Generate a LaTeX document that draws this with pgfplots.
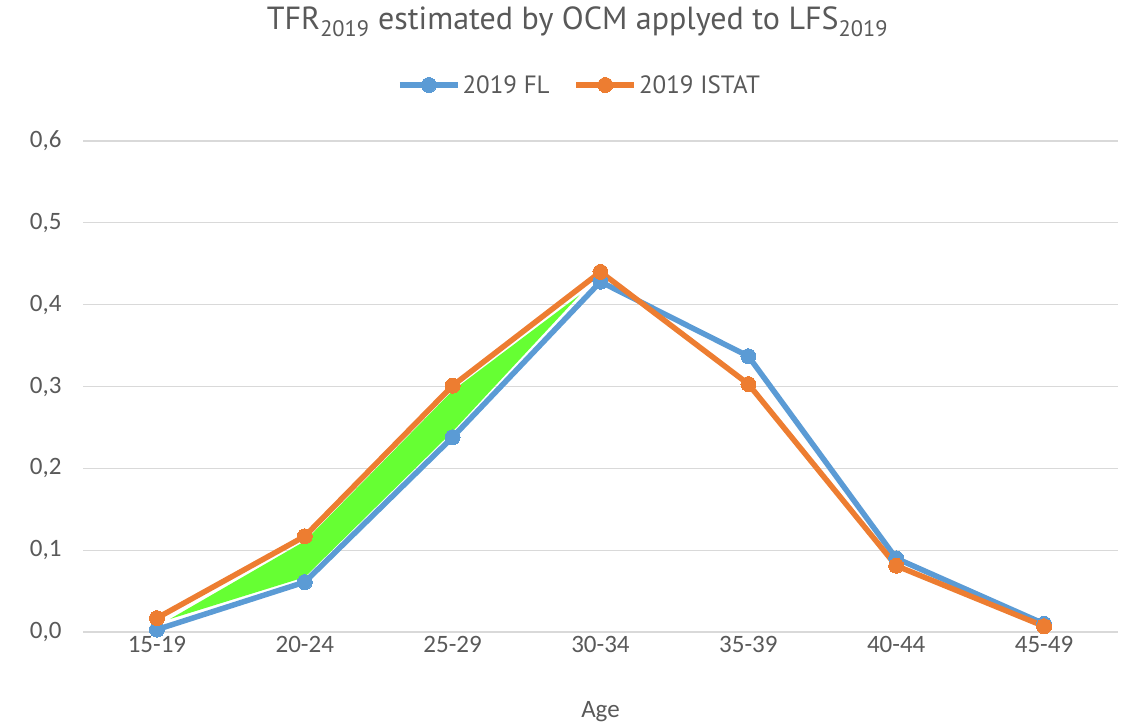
\documentclass[border=0pt]{standalone}
\usepackage{fontspec}
\setmainfont{Carlito}
\newfontfamily\titlefont{PT Sans}
\usepackage{pgfplots}
\pgfplotsset{compat=1.18}
\definecolor{fl}{HTML}{5B9BD5}
\definecolor{istat}{HTML}{ED7D31}
\definecolor{fillgreen}{HTML}{66FF33}
\definecolor{gridgray}{HTML}{D9D9D9}
\definecolor{txt}{HTML}{595959}
\begin{document}
\begin{tikzpicture}
\path[use as bounding box] (0,0) rectangle (1127bp,725bp);
\begin{axis}[
  at={(83bp,93bp)}, anchor=south west,
  scale only axis, width=1035bp, height=491bp,
  xmin=-0.5, xmax=6.5, ymin=0, ymax=0.6,
  xtick={0,1,2,3,4,5,6},
  xticklabels={15-19,20-24,25-29,30-34,35-39,40-44,45-49},
  ytick={0,0.1,0.2,0.3,0.4,0.5,0.6},
  /pgf/number format/.cd, use comma, fixed, fixed zerofill, precision=1, assume math mode=true,
  /pgfplots/.cd,
  axis line style={draw=none},
  major tick length=0pt,
  ymajorgrids,
  grid style={color=gridgray, line width=1.3bp},
  tick label style={font=\fontsize{25bp}{29bp}\selectfont, text=txt},
  yticklabel style={xshift=-18bp},
  xticklabel style={yshift=-1bp},
  xlabel={Age},
  xlabel style={at={(0.5,0)}, anchor=center, yshift=-80bp, font=\fontsize{25bp}{29bp}\selectfont, text=txt},
  title={\titlefont TFR\textsubscript{2019} estimated by OCM applyed to LFS\textsubscript{2019}},
  title style={at={(0.5,1)}, anchor=center, yshift=113bp, xshift=-23bp, font=\fontsize{32bp}{36bp}\selectfont, text=txt},
  legend style={at={(0.5,1)}, anchor=center, yshift=56bp, xshift=-21bp, draw=none, fill=none,
    legend columns=2, font=\titlefont\fontsize{25bp}{29bp}\selectfont, text=txt,
    /tikz/every even column/.append style={column sep=22bp}},
  legend image code/.code={\draw[mark repeat=2, mark phase=2] plot coordinates {(0bp,0bp)(29bp,0bp)(58bp,0bp)};},
]
\addplot[draw=none, fill=fillgreen, forget plot] coordinates {
  (0.09,0.016) (1,0.111) (2,0.295) (2.86,0.412) (2,0.245) (1,0.067) (0.09,0.016)};
\addplot[color=fl, line width=5.5bp, line join=round, mark=*, mark size=7.5bp, mark options={fill=fl, draw=fl, line width=0pt}] coordinates {
  (0,0.003) (1,0.061) (2,0.238) (3,0.428) (4,0.337) (5,0.090) (6,0.010)};
\addlegendentry{2019 FL}
\addplot[color=istat, line width=5.5bp, line join=round, mark=*, mark size=7.5bp, mark options={fill=istat, draw=istat, line width=0pt}] coordinates {
  (0,0.017) (1,0.117) (2,0.301) (3,0.440) (4,0.303) (5,0.081) (6,0.007)};
\addlegendentry{2019 ISTAT}
\end{axis}
\end{tikzpicture}
\end{document}
